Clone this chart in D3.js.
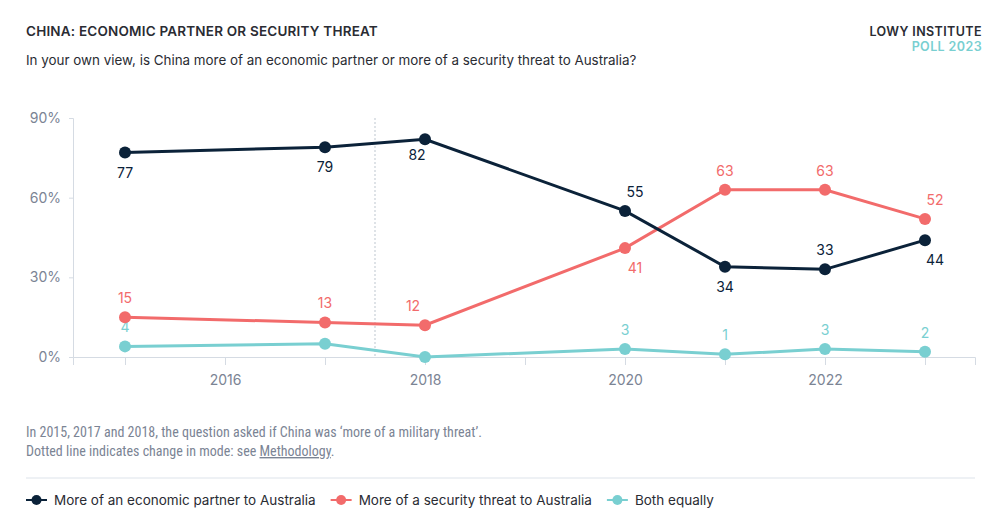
<!DOCTYPE html>
<html><head><meta charset="utf-8">
<script src="https://cdn.jsdelivr.net/npm/d3@7"></script>
<style>
body{margin:0;background:#fff;}
svg{display:block;font-family:Inter,"Open Sans",sans-serif;}
</style></head>
<body>
<svg id="chart" width="1000" height="525"></svg>
<script>
const years = [2015, 2017, 2018, 2020, 2021, 2022, 2023];
const economic = [77, 79, 82, 55, 34, 33, 44];
const security = [15, 13, 12, 41, 63, 63, 52];
const both = [4, 5, 0, 3, 1, 3, 2];
const bothShown = [true, false, false, true, true, true, true];
const economicPlace = ["below", "below", "below-left", "above-right", "below", "above", "below-right"];
const securityPlace = ["above", "above", "above-left", "below-right", "above", "above", "above-right"];
const bothPlace = ["above", "above", "above", "above", "above", "above", "above"];
const yTicks = [0, 30, 60, 90];
const xTickYears = [2015, 2016, 2017, 2018, 2019, 2020, 2021, 2022, 2023];
const xLabelYears = [2016, 2018, 2020, 2022];
const modeChange = 2017.5;
const seriesNames = ["More of an economic partner to Australia", "More of a security threat to Australia", "Both equally"];
const colors = ["#0b2239", "#f26b6b", "#79cfd1"];

const svg = d3.select("#chart");
const x = d3.scaleLinear().domain([2014.48, 2023.5]).range([73, 975]);
const y = d3.scaleLinear().domain([0, 90]).range([357, 118]);

// Header
svg.append("text").attr("x", 26).attr("y", 36).text("CHINA: ECONOMIC PARTNER OR SECURITY THREAT")
  .attr("font-size", 13.5).attr("font-weight", 600).attr("fill", "#2a2c33").attr("letter-spacing", 0.2);
svg.append("text").attr("x", 26).attr("y", 65).text("In your own view, is China more of an economic partner or more of a security threat to Australia?")
  .attr("font-size", 13.4).attr("fill", "#2a2c33");
svg.append("text").attr("x", 982).attr("y", 36).attr("text-anchor", "end").text("LOWY INSTITUTE")
  .attr("font-size", 12.5).attr("font-weight", 600).attr("fill", "#2a2c33").attr("letter-spacing", 0.4);
svg.append("text").attr("x", 982).attr("y", 51).attr("text-anchor", "end").text("POLL 2023")
  .attr("font-size", 12.5).attr("font-weight", 600).attr("fill", "#79cfd1").attr("letter-spacing", 0.4);

// Axes
const yAxis = svg.append("g").attr("transform", "translate(73,0)")
  .call(d3.axisLeft(y).tickValues(yTicks).tickSize(4).tickPadding(8).tickFormat(d => d + "%"));
const xAxis = svg.append("g").attr("transform", "translate(0,357)")
  .call(d3.axisBottom(x).tickValues(xTickYears).tickSize(8).tickPadding(8)
    .tickFormat(d => xLabelYears.includes(d) ? String(d) : ""));
[yAxis, xAxis].forEach(a => {
  a.select(".domain").attr("stroke", "#d5dbe3");
  a.selectAll(".tick line").attr("stroke", "#d5dbe3");
  a.selectAll(".tick text").attr("fill", "#7b8494").attr("font-size", 14).attr("font-family", "Inter, sans-serif");
});
xAxis.selectAll(".tick text").attr("dy", "0.85em");

// Dotted mode-change line
svg.append("line").attr("x1", x(modeChange)).attr("x2", x(modeChange)).attr("y1", y(90)).attr("y2", y(0))
  .attr("stroke", "#c9d0d8").attr("stroke-width", 1.2).attr("stroke-dasharray", "2,2");

const series = [
  {vals: both, place: bothPlace, shown: both.map((d,i) => bothShown[i]), color: colors[2]},
  {vals: security, place: securityPlace, shown: security.map(() => true), color: colors[1]},
  {vals: economic, place: economicPlace, shown: economic.map(() => true), color: colors[0]}
];
const line = d3.line().x(d => x(d.year)).y(d => y(d.v));
const offsets = {
  "above": [0, -14], "below": [0, 25], "above-left": [-12, -14], "below-left": [-8, 21],
  "above-right": [10, -14], "below-right": [10, 25]
};
series.forEach(s => {
  const pts = years.map((yr, i) => ({year: yr, v: s.vals[i], place: s.place[i], shown: s.shown[i]}));
  svg.append("path").datum(pts).attr("d", line).attr("fill", "none").attr("stroke", s.color).attr("stroke-width", 3);
  svg.selectAll(null).data(pts).enter().append("circle")
    .attr("cx", d => x(d.year)).attr("cy", d => y(d.v)).attr("r", 6).attr("fill", s.color);
  svg.selectAll(null).data(pts.filter(d => d.shown)).enter().append("text")
    .attr("x", d => x(d.year) + offsets[d.place][0]).attr("y", d => y(d.v) + offsets[d.place][1])
    .attr("text-anchor", "middle").attr("font-size", 14).attr("fill", s.color).text(d => d.v);
});

// Footnote
const fn = svg.append("g").attr("font-family", "'Liberation Sans Narrow', 'Roboto Condensed', Roboto, sans-serif")
  .attr("font-size", 14).attr("fill", "#7b8494");
fn.append("text").attr("x", 26).attr("y", 437).text("In 2015, 2017 and 2018, the question asked if China was \u2018more of a military threat\u2019.");
const t2 = fn.append("text").attr("x", 26).attr("y", 456);
t2.append("tspan").text("Dotted line indicates change in mode: see ");
t2.append("tspan").text("Methodology").attr("text-decoration", "underline");
t2.append("tspan").text(".");

svg.append("line").attr("x1", 26).attr("x2", 975).attr("y1", 478).attr("y2", 478).attr("stroke", "#dde3ea").attr("stroke-width", 1);

// Legend
let lx = 26;
seriesNames.forEach((name, i) => {
  const g = svg.append("g").attr("transform", `translate(${lx},500)`);
  g.append("line").attr("x1", 0).attr("x2", 21).attr("y1", 0).attr("y2", 0).attr("stroke", colors[i]).attr("stroke-width", 2);
  g.append("circle").attr("cx", 10.5).attr("cy", 0).attr("r", 5).attr("fill", colors[i]);
  const t = g.append("text").attr("x", 28).attr("y", 5).attr("font-size", 13.5).attr("fill", "#2a2c33").text(name);
  lx += 28 + t.node().getComputedTextLength() + 15;
});
</script>
</body></html>
